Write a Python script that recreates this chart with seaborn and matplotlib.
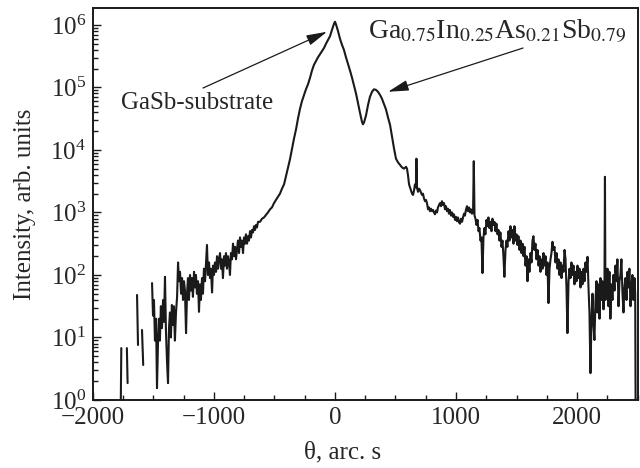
import numpy as np
import pandas as pd
import matplotlib
matplotlib.use("Agg")
import matplotlib.pyplot as plt
import matplotlib.ticker as mticker
import seaborn as sns

# X-ray rocking curve.
# theta in arc s, counts given as log10(intensity); None = break in the trace,
# -1 = zero counts (falls below the axis floor)
theta = [
    -1775, -1766, None,
    -1720, -1714, None,
    -1636, -1628, None,
    -1595, -1585, None,
    -1512, -1504, -1496, -1488, -1479, -1471, -1463, -1455, -1447, -1439,
    -1430, -1421, -1413, -1405, -1397, -1388, -1380, -1372, -1364, -1356,
    -1348, -1340, -1331, -1323, -1314, -1305, -1297, -1289, -1281, -1272,
    -1264, -1256, -1248, -1240, -1231, -1223, -1215, -1207, -1198, -1190,
    -1182, -1174, -1165, -1157, -1149, -1141, -1132, -1124, -1116, -1108,
    -1099, -1091, -1083, -1074, -1066, -1058, -1050, -1041, -1033, -1025,
    -1016, -1008, -1000, -992, -983, -975, -967, -959, -950, -942,
    -934, -926, -917, -909, -901, -893, -884, -876, -868, -860,
    -851, -843, -835, -826, -818, -810, -802, -793, -785, -777,
    -769, -760, -752, -744, -736, -727, -719, -711, -702, -694,
    -686, -678, -669, -661, -653, -645, -636, -620, -603, -587,
    -570, -554, -537, -521, -504, -488, -471, -455, -438, -421,
    -405, -388, -372, -355, -339, -322, -306, -289, -273, -256,
    -240, -223, -207, -190, -174, -157, -141, -124, -107, -91,
    -74, -58, -41, -25, -8, 0, 8, 25, 41, 58,
    74, 91, 107, 124, 140, 157, 174, 190, 207, 223,
    231, 240, 256, 273, 289, 306, 322, 339, 355, 372,
    388, 405, 421, 438, 455, 471, 488, 504, 521, 537,
    554, 570, 587, 595, 603, 612, 620, 637, 645, 653,
    661, 669, 673, 678, 686, 694, 702, 711, 719, 727,
    736, 744, 752, 760, 769, 777, 785, 793, 802, 810,
    818, 826, 835, 843, 851, 860, 868, 876, 884, 892,
    901, 909, 917, 926, 934, 942, 950, 959, 967, 975,
    983, 992, 1000, 1008, 1016, 1025, 1033, 1041, 1050, 1058,
    1066, 1074, 1083, 1091, 1099, 1108, 1116, 1124, 1132, 1141,
    1147, 1153, 1161, 1169, 1178, 1186, 1194, 1202, 1210, 1219,
    1227, 1235, 1243, 1252, 1260, 1268, 1276, 1285, 1293, 1301,
    1310, 1318, 1326, 1334, 1343, 1351, 1359, 1367, 1376, 1384,
    1392, 1400, 1409, 1417, 1425, 1434, 1442, 1450, 1459, 1467,
    1475, 1483, 1492, 1500, 1508, 1516, 1525, 1533, 1541, 1550,
    1558, 1566, 1574, 1583, 1591, 1599, 1607, 1616, 1624, 1632,
    1640, 1649, 1657, 1665, 1674, 1682, 1690, 1698, 1707, 1715,
    1723, 1731, 1740, 1748, 1756, 1764, 1773, 1781, 1789, 1797,
    1806, 1814, 1822, 1831, 1839, 1847, 1855, 1864, 1872, 1880,
    1888, 1897, 1905, 1913, 1921, 1930, 1938, 1946, 1954, 1963,
    1971, 1979, 1988, 1996, 2004, 2012, 2021, 2029, 2037, 2045,
    2054, 2062, 2070, 2078, 2087, 2095, 2103, 2111, 2120, 2128,
    2136, 2144, 2153, 2161, 2169, 2177, 2186, 2194, 2202, 2210,
    2219, 2227, 2231, 2235, 2243, 2252, 2260, 2268, 2276, 2285,
    2293, 2301, 2310, 2318, 2326, 2334, 2343, 2351, 2359, 2367,
    2376, 2384, 2392, 2400, 2409, 2417, 2425, 2433, 2442, 2450,
    2458, 2466, 2475, 2481, 2486,
]
log_counts = [
    -1, 0.83, None,
    0.83, 0.27, None,
    1.68, 0.88, None,
    1.12, 0.56, None,
    1.87, 1.35, 1.6, 0.95, 1.3, 0.19, 0.9, 1.3, 0.95, 1.5,
    1.15, 1.6, 1.25, 1.97, 1.1, 0.6, 0.27, 1.15, 1.4, 1.0,
    1.52, 1.2, 1.5, 0.95, 1.4, 1.65, 2.2, 1.9, 2.05, 1.7,
    1.95, 1.6, 1.9, 1.75, 1.07, 1.7, 1.95, 1.6, 2.0, 1.75,
    1.95, 1.65, 2.05, 1.8, 2.0, 1.7, 1.9, 1.41, 1.85, 1.6,
    1.95, 1.7, 2.1, 1.9, 2.2, 2.48, 2.0, 2.2, 1.95, 2.1,
    1.72, 2.15, 2.0, 2.2, 2.05, 2.3, 2.1, 2.25, 2.35, 2.1,
    2.25, 1.95, 2.3, 2.15, 2.35, 2.1, 2.3, 2.2, 2.0, 2.35,
    2.25, 2.5, 2.3, 2.45, 2.25, 2.4, 2.55, 2.35, 2.6, 2.45,
    2.55, 2.35, 2.6, 2.5, 2.65, 2.5, 2.62, 2.55, 2.7, 2.6,
    2.72, 2.68, 2.78, 2.72, 2.8, 2.76, 2.85, 2.85, 2.9, 2.92,
    2.96, 3.0, 3.05, 3.08, 3.15, 3.2, 3.25, 3.3, 3.38, 3.45,
    3.58, 3.72, 3.85, 4.02, 4.18, 4.33, 4.5, 4.66, 4.78, 4.88,
    4.97, 5.05, 5.15, 5.27, 5.36, 5.42, 5.48, 5.53, 5.58, 5.63,
    5.7, 5.76, 5.82, 5.92, 6.02, 6.05, 6.01, 5.9, 5.78, 5.68,
    5.6, 5.48, 5.38, 5.27, 5.16, 5.03, 4.9, 4.75, 4.59, 4.45,
    4.41, 4.44, 4.55, 4.72, 4.85, 4.93, 4.97, 4.96, 4.93, 4.88,
    4.82, 4.73, 4.65, 4.52, 4.4, 4.22, 4.02, 3.86, 3.8, 3.76,
    3.72, 3.7, 3.73, 3.7, 3.6, 3.45, 3.4, 3.3, 3.28, 3.35,
    3.45, 3.4, 3.86, 3.4, 3.33, 3.38, 3.36, 3.32, 3.28, 3.3,
    3.22, 3.18, 3.2, 3.15, 3.05, 3.08, 3.02, 3.06, 3.02, 3.04,
    3.0, 2.97, 3.03, 3.0, 3.08, 3.12, 3.15, 3.1, 3.18, 3.12,
    3.15, 3.05, 3.1, 3.02, 3.06, 2.98, 3.04, 2.95, 3.0, 2.93,
    2.97, 2.88, 2.93, 2.86, 2.92, 2.84, 2.82, 2.9, 2.85, 2.92,
    2.98, 2.95, 3.05, 3.1, 3.02, 3.08, 3.0, 3.05, 2.98, 3.0,
    3.82, 2.95, 2.9, 2.8, 2.88, 2.7, 2.75, 2.55, 2.6, 2.03,
    2.6, 2.75, 2.65, 2.88, 2.78, 2.92, 2.75, 2.85, 2.7, 2.9,
    2.8, 2.85, 2.7, 2.82, 2.65, 2.72, 2.55, 2.68, 2.45, 2.55,
    2.3, 1.97, 2.4, 2.55, 2.45, 2.7, 2.55, 2.78, 2.6, 2.72,
    2.5, 2.78, 2.55, 2.65, 2.48, 2.62, 2.4, 2.55, 2.35, 2.5,
    2.3, 2.45, 2.15, 2.3, 1.9, 2.25, 2.05, 2.35, 2.2, 2.55,
    2.62, 2.4, 2.5, 2.25, 2.4, 2.15, 2.3, 2.05, 2.25, 2.1,
    2.35, 2.15, 2.3, 2.0, 2.2, 1.55, 2.1, 2.25, 2.35, 2.53,
    2.4, 2.45, 2.2, 2.35, 2.1, 2.25, 2.0, 2.2, 1.95, 2.15,
    2.05, 2.4, 2.25, 1.8, 1.07, 1.9, 2.1, 1.95, 2.2, 2.0,
    2.15, 1.85, 2.05, 1.9, 2.15, 1.95, 2.1, 1.8, 2.05, 1.85,
    2.1, 1.9, 2.2, 2.05, 2.29, 1.8, 1.4, 0.43, 1.3, 1.7,
    1.2, 0.96, 1.6, 1.9, 1.4, 1.85, 1.3, 1.95, 1.6, 1.9,
    1.45, 1.8, 3.57, 1.6, 1.9, 2.1, 1.5, 2.05, 1.3, 1.85,
    1.6, 2.0, 1.75, 2.15, 1.9, 2.25, 1.5, 1.9, 2.0, 2.25,
    1.7, 1.4, 1.8, 1.95, 1.6, 2.05, 1.8, 2.1, 1.5, 1.8,
    2.0, 1.6, 1.95, 1.7, -1,
]

substrate_label = "GaSb-substrate"
layer_label = r"Ga$_{0.75}$In$_{0.25}$As$_{0.21}$Sb$_{0.79}$"

df = pd.DataFrame({"theta": theta, "log_counts": log_counts}, dtype=float)
df["seg"] = df["log_counts"].isna().cumsum()
df = df.dropna()
df["intensity"] = 10 ** df["log_counts"]

sns.set_style("ticks")
plt.rcParams["font.family"] = ["Liberation Serif", "DejaVu Serif"]
plt.rcParams["mathtext.fontset"] = "stix"
plt.rcParams["font.size"] = 18

fig = plt.figure(figsize=(6.4, 4.68), dpi=100)
ax = fig.add_axes([0.1453, 0.1453, 0.8508, 0.8376])

sns.lineplot(data=df, x="theta", y="intensity", units="seg", estimator=None,
             sort=False, color="#1a1a1a", lw=1.5, ax=ax)

ax.set_yscale("log")
ax.set_xlim(-2000, 2500)
ax.set_ylim(1, 10 ** 6.27)
ax.xaxis.set_major_locator(mticker.MultipleLocator(1000))
ax.xaxis.set_minor_locator(mticker.MultipleLocator(250))
ax.yaxis.set_major_locator(mticker.LogLocator(base=10, numticks=10))
ax.yaxis.set_minor_locator(mticker.LogLocator(base=10, subs=np.arange(2, 10), numticks=20))
ax.yaxis.set_minor_formatter(mticker.NullFormatter())
ax.tick_params(which="both", direction="in", labelsize=18, width=1.0, color="#1a1a1a")
ax.tick_params(which="major", length=6, pad=5)
ax.tick_params(which="minor", length=3.5)
for s in ax.spines.values():
    s.set_linewidth(1.4)
    s.set_color("#1a1a1a")

ax.set_xlabel("θ, arc. s", fontsize=18)
ax.set_ylabel("Intensity, arb. units", fontsize=18)
ax.xaxis.set_label_coords(0.459, -0.105)
ax.yaxis.set_label_coords(-0.105, 0.5)

# peak labels with arrows
ax.text(-1140, 10 ** 4.75, substrate_label, ha="center", va="center", fontsize=18)
ax.annotate("", xy=(-66, 10 ** 5.89), xytext=(-1091, 10 ** 4.99),
            arrowprops=dict(arrowstyle="-|>,head_length=0.7,head_width=0.18",
                            color="#1a1a1a", lw=0.9, shrinkA=0, shrinkB=0))
ax.text(1339, 10 ** 5.9, layer_label, ha="center", va="center", fontsize=20)
ax.annotate("", xy=(438, 10 ** 4.93), xytext=(1554, 10 ** 5.63),
            arrowprops=dict(arrowstyle="-|>,head_length=0.7,head_width=0.18",
                            color="#1a1a1a", lw=0.9, shrinkA=0, shrinkB=0))

fig.savefig("out.png", dpi=100)
